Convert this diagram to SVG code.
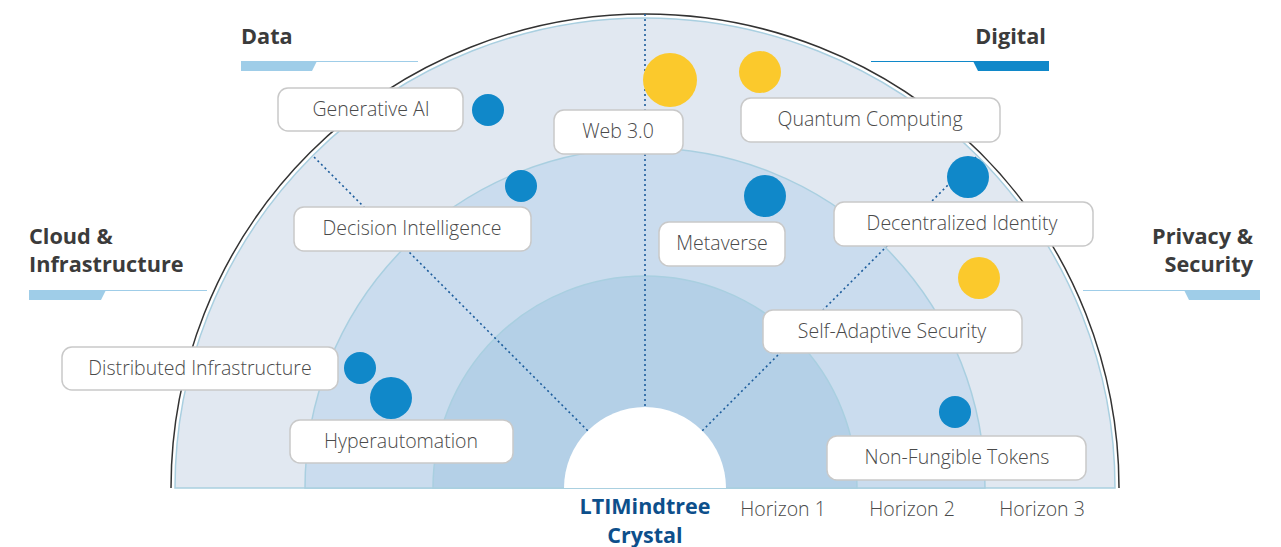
<svg xmlns="http://www.w3.org/2000/svg" width="1281" height="547" viewBox="0 0 1281 547">
  <style>
    .title { font-family: "Open Sans", "Noto Sans", sans-serif; font-weight: 700; font-size: 21.7px; fill: #3b3b3b; }
    .label { font-family: "Open Sans", "Noto Sans", sans-serif; font-weight: 300; font-size: 19.5px; fill: #4a4a4a; }
    .horizon { font-family: "Open Sans", "Noto Sans", sans-serif; font-weight: 300; font-size: 19.5px; fill: #4a4a4a; }
    .crystal { font-family: "Open Sans", "Noto Sans", sans-serif; font-weight: 700; font-size: 21.5px; fill: #0d4f8b; }
    .box { fill: #ffffff; stroke: #c9c9c9; stroke-width: 1.5; }
    .ring { stroke: #a9cfe0; stroke-width: 1.5; }
    .axis { fill: none; stroke: #1d5d9c; stroke-width: 1.6; stroke-dasharray: 2 3; }
    .blue { fill: #1088c9; }
    .yellow { fill: #fbc92c; }
  </style>

  <rect width="1281" height="547" fill="#ffffff"/>

  <!-- radar background: three horizon rings and the core -->
  <g id="radar">
    <path d="M 171 488 A 474 474 0 0 1 1119 488" fill="none" stroke="#333333" stroke-width="1.5"/>
    <path class="ring" d="M 175 488 A 470 470 0 0 1 1115 488 Z" fill="#e1e8f1"/>
    <path class="ring" d="M 305 488 A 340 340 0 0 1 985 488 Z" fill="#cadcee"/>
    <path class="ring" d="M 433 488 A 212 212 0 0 1 857 488 Z" fill="#b4d0e7"/>
    <path d="M 564 488 A 81 81 0 0 1 726 488 Z" fill="#ffffff"/>
  </g>

  <!-- sector dividers -->
  <g id="connectors">
    <line class="axis" x1="645" y1="406" x2="645" y2="12"/>
    <line class="axis" x1="587.7" y1="430.7" x2="313.4" y2="156.4"/>
    <line class="axis" x1="702.3" y1="430.7" x2="976.6" y2="156.4"/>
  </g>

  <!-- quadrant headings -->
  <g id="heading-data">
    <text class="title" x="241" y="44">Data</text>
    <line x1="241" y1="61.5" x2="418" y2="61.5" stroke="#9fcde8" stroke-width="1.2"/>
    <polygon points="241,61 317,61 312,71 241,71" fill="#9fcde8"/>
  </g>
  <g id="heading-digital">
    <text class="title" x="1046" y="44" text-anchor="end">Digital</text>
    <line x1="871" y1="61.5" x2="1049" y2="61.5" stroke="#1088c9" stroke-width="1.2"/>
    <polygon points="973,61 1049,61 1049,71 978,71" fill="#1088c9"/>
  </g>
  <g id="heading-cloud">
    <text class="title" x="29" y="244">Cloud &amp;</text>
    <text class="title" x="29" y="272">Infrastructure</text>
    <line x1="29" y1="290.5" x2="207" y2="290.5" stroke="#9fcde8" stroke-width="1.2"/>
    <polygon points="29,290 106,290 101,300 29,300" fill="#9fcde8"/>
  </g>
  <g id="heading-privacy">
    <text class="title" x="1253" y="244" text-anchor="end">Privacy &amp;</text>
    <text class="title" x="1253" y="272" text-anchor="end">Security</text>
    <line x1="1083" y1="290.5" x2="1260" y2="290.5" stroke="#9fcde8" stroke-width="1.2"/>
    <polygon points="1184,290 1260,290 1260,300 1189,300" fill="#9fcde8"/>
  </g>

  <!-- technology nodes -->
  <g id="node-generative-ai">
    <rect class="box" x="278" y="88" width="185" height="43" rx="10"/>
    <text class="label" x="371" y="116" text-anchor="middle">Generative AI</text>
    <circle class="blue" cx="488" cy="110" r="16"/>
  </g>
  <g id="node-web3">
    <circle class="yellow" cx="670" cy="80" r="27"/>
    <rect class="box" x="554" y="110" width="129" height="44" rx="10"/>
    <text class="label" x="618" y="138" text-anchor="middle">Web 3.0</text>
  </g>
  <g id="node-quantum">
    <circle class="yellow" cx="760" cy="72" r="21"/>
    <rect class="box" x="741" y="98" width="259" height="44" rx="10"/>
    <text class="label" x="870" y="126" text-anchor="middle">Quantum Computing</text>
  </g>
  <g id="node-decision-intelligence">
    <circle class="blue" cx="521" cy="186" r="16"/>
    <rect class="box" x="294" y="207" width="237" height="44" rx="10"/>
    <text class="label" x="412" y="235" text-anchor="middle">Decision Intelligence</text>
  </g>
  <g id="node-metaverse">
    <circle class="blue" cx="765" cy="196" r="21"/>
    <rect class="box" x="659" y="222" width="126" height="44" rx="10"/>
    <text class="label" x="722" y="250" text-anchor="middle">Metaverse</text>
  </g>
  <g id="node-decentralized-identity">
    <circle class="blue" cx="968" cy="177" r="21"/>
    <rect class="box" x="834" y="202" width="259" height="44" rx="10"/>
    <text class="label" x="962" y="230" text-anchor="middle">Decentralized Identity</text>
  </g>
  <g id="node-self-adaptive-security">
    <circle class="yellow" cx="979" cy="278" r="21"/>
    <rect class="box" x="763" y="310" width="259" height="43" rx="10"/>
    <text class="label" x="892" y="338" text-anchor="middle">Self-Adaptive Security</text>
  </g>
  <g id="node-distributed-infrastructure">
    <rect class="box" x="62" y="347" width="276" height="43" rx="10"/>
    <text class="label" x="200" y="375" text-anchor="middle">Distributed Infrastructure</text>
    <circle class="blue" cx="360" cy="368" r="16"/>
  </g>
  <g id="node-hyperautomation">
    <circle class="blue" cx="391" cy="398" r="21"/>
    <rect class="box" x="290" y="420" width="223" height="43" rx="10"/>
    <text class="label" x="401" y="448" text-anchor="middle">Hyperautomation</text>
  </g>
  <g id="node-nft">
    <circle class="blue" cx="955" cy="412" r="16"/>
    <rect class="box" x="827" y="436" width="259" height="44" rx="10"/>
    <text class="label" x="957" y="464" text-anchor="middle">Non-Fungible Tokens</text>
  </g>

  <!-- axis captions -->
  <g id="captions">
    <text class="crystal" x="645" y="514" text-anchor="middle">LTIMindtree</text>
    <text class="crystal" x="645" y="543" text-anchor="middle">Crystal</text>
    <text class="horizon" x="783" y="516" text-anchor="middle">Horizon 1</text>
    <text class="horizon" x="912" y="516" text-anchor="middle">Horizon 2</text>
    <text class="horizon" x="1042" y="516" text-anchor="middle">Horizon 3</text>
  </g>
</svg>
